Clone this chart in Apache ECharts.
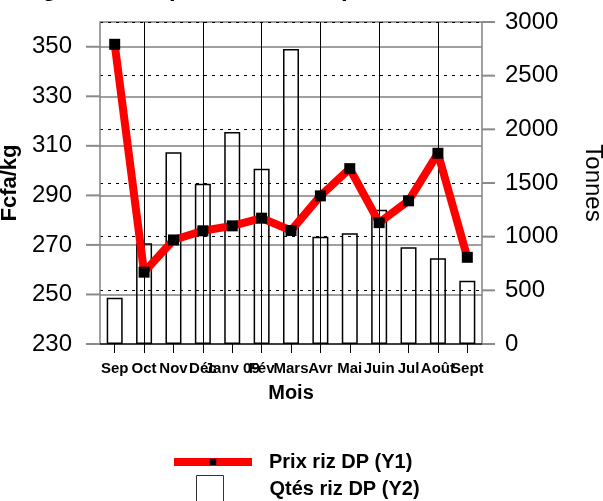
<!DOCTYPE html>
<html>
<head>
<meta charset="utf-8">
<script src="https://cdn.jsdelivr.net/npm/echarts@6/dist/echarts.min.js"></script>
<style>html,body{margin:0;padding:0;background:#fff;}#c{width:603px;height:501px;}</style>
</head>
<body>
<div id="c"></div>
<script>
const titleText = 'Figure : Comparaison entre prix et volumes';
const categories = ['Sep','Oct','Nov','Déc','Janv 09','Fév','Mars','Avr','Mai','Juin','Jul','Août','Sept'];
const prixRiz = [351, 259, 272, 275.7, 277.7, 280.8, 275.8, 289.8, 300.8, 279, 287.8, 307, 265];
const qtesRiz = [431, 938, 1786, 1494, 1975, 1633, 2749, 1000, 1031, 1251, 901, 798, 590];
const leftTicks = [230, 250, 270, 290, 310, 330, 350];
const seriesNames = ['Prix riz DP (Y1)', 'Qtés riz DP (Y2)'];
const leftAxisName = 'Fcfa/kg';
const rightAxisName = 'Tonnes';
const xAxisName = 'Mois';

const FONT = "'Liberation Sans', Arial, sans-serif";
// helper half-step axis: positions between and at category centres
const halfSteps = [];
for (let i = 0; i <= categories.length * 2; i++) halfSteps.push('h' + i);

const tickRich = {
  v: {fontFamily: FONT, fontSize: 24, color: '#000'},
  g: {width: 14},
  g2: {width: 10},
  tl: {width: 14, height: 2, backgroundColor: '#8a8a8a'},
  tr: {width: 13, height: 2, backgroundColor: '#8a8a8a'}
};

const chart = echarts.init(document.getElementById('c'), null, {renderer: 'canvas'});
chart.setOption({
  animation: false,
  backgroundColor: '#ffffff',
  title: {
    text: titleText, left: 16, top: -28,
    textStyle: {fontFamily: FONT, fontSize: 24, fontWeight: 'bold', color: '#000'}
  },
  grid: {left: 100, right: 121, top: 22, bottom: 157, containLabel: false, outerBoundsMode: 'none'},
  legend: [
    {
      data: [seriesNames[0]], left: 165, top: 447, orient: 'vertical',
      itemWidth: 78, itemHeight: 8,
      lineStyle: {width: 8, color: '#ff0000'},
      itemStyle: {color: '#000'},
      textStyle: {fontFamily: FONT, fontSize: 20, fontWeight: 'bold', color: '#000', padding: [0, 0, 0, 12]}
    },
    {
      data: [{name: seriesNames[1], icon: 'rect', itemStyle: {color: '#fff', borderColor: '#333', borderWidth: 1}}],
      left: 191, top: 470, orient: 'vertical',
      itemWidth: 27, itemHeight: 28,
      textStyle: {fontFamily: FONT, fontSize: 20, fontWeight: 'bold', color: '#000', padding: [0, 0, 0, 41]}
    }
  ],
  xAxis: [
    {
      type: 'category', data: categories, boundaryGap: true, position: 'bottom',
      name: xAxisName, nameLocation: 'middle', nameGap: 39,
      nameTextStyle: {fontFamily: FONT, fontSize: 20, fontWeight: 'bold', color: '#000'},
      axisLine: {show: true, lineStyle: {color: '#000', width: 1.5}},
      axisTick: {show: true, alignWithLabel: true, length: 9, lineStyle: {color: '#000', width: 1}},
      axisLabel: {interval: 0, margin: 17, fontFamily: FONT, fontSize: 15, fontWeight: 'bold', color: '#000', hideOverlap: false},
      splitLine: {show: false}
    },
    {
      type: 'category', data: halfSteps, boundaryGap: false, position: 'top',
      axisLine: {show: false}, axisTick: {show: false}, axisLabel: {show: false},
      splitLine: {show: true, interval: function (i) { return i % 4 === 3; }, lineStyle: {color: '#000', width: 1}}
    }
  ],
  yAxis: [
    {
      type: 'value', position: 'left', min: 230, max: 360, interval: 20,
      name: leftAxisName, nameLocation: 'middle', nameGap: 71,
      nameTextStyle: {fontFamily: FONT, fontSize: 22, fontWeight: 'bold', color: '#000'},
      axisLine: {show: true, lineStyle: {color: '#808080', width: 1.5}},
      axisTick: {show: false},
      axisLabel: {
        margin: 0, customValues: leftTicks, fontFamily: FONT, fontSize: 24, color: '#000',
        formatter: function (v) { return '{v|' + v + '}{g|}{tl|}'; }, rich: tickRich
      },
      splitLine: {show: true, showMinLine: false, lineStyle: {color: '#808080', width: 1.5}}
    },
    {
      type: 'value', position: 'right', min: 0, max: 3000, interval: 500,
      name: rightAxisName, nameLocation: 'middle', nameGap: 99, nameRotate: -90,
      nameTextStyle: {fontFamily: FONT, fontSize: 24, color: '#000'},
      axisLine: {show: true, lineStyle: {color: '#808080', width: 1.5}},
      axisTick: {show: false},
      axisLabel: {
        margin: 0, fontFamily: FONT, fontSize: 24, color: '#000',
        formatter: function (v) { return '{tr|}{g2|}{v|' + v + '}'; }, rich: tickRich
      },
      splitLine: {show: true, showMinLine: false, lineStyle: {color: '#000', width: 1, type: [3, 5]}}
    }
  ],
  series: [
    {
      name: seriesNames[0], type: 'line', xAxisIndex: 0, yAxisIndex: 0, data: prixRiz,
      symbol: 'rect', symbolSize: 11, z: 5,
      lineStyle: {color: '#ff0000', width: 8},
      itemStyle: {color: '#000'}
    },
    {
      name: seriesNames[1], type: 'bar', xAxisIndex: 0, yAxisIndex: 1, data: qtesRiz,
      barWidth: 16, z: 3,
      itemStyle: {color: 'rgba(0,0,0,0)', borderColor: '#000', borderWidth: 1.5}
    }
  ]
});
</script>
</body>
</html>
